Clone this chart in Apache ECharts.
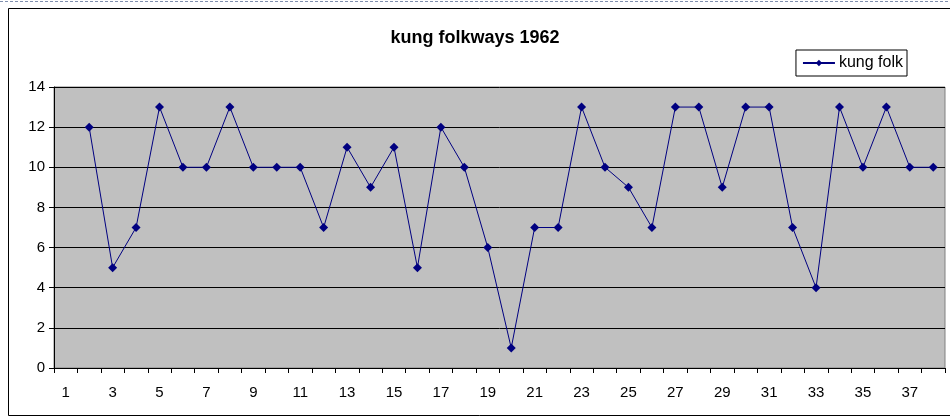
<!DOCTYPE html>
<html>
<head>
<meta charset="utf-8">
<script src="https://cdn.jsdelivr.net/npm/echarts@6/dist/echarts.min.js"></script>
<style>
  html, body { margin: 0; padding: 0; background: #fff; }
  #chart { width: 950px; height: 419px; }
</style>
</head>
<body>
<div id="chart"></div>
<script>
// data
const categories = []
for (let i = 1; i <= 38; i++) categories.push(String(i))

const seriesName = 'kung folk'
const kungFolk = [
  null, 12, 5, 7, 13, 10, 10, 13, 10, 10,
  10, 7, 11, 9, 11, 5, 12, 10, 6, 1,
  7, 7, 13, 10, 9, 7, 13, 13, 9, 13,
  13, 7, 4, 13, 10, 13, 10, 10
]

const yTicks = [0, 2, 4, 6, 8, 10, 12, 14]

const chart = echarts.init(document.getElementById('chart'))

const font = 'Liberation Sans, Arial, sans-serif'

const option = {
  animation: false,
  backgroundColor: '#fff',
  title: {
    text: 'kung folkways 1962',
    left: 'center',
    top: 24,
    textStyle: {
      fontFamily: font,
      fontSize: 18,
      fontWeight: 'bold',
      color: '#000'
    }
  },
  legend: {
    right: 43,
    top: 50,
    itemWidth: 32,
    itemHeight: 8,
    itemGap: 6,
    padding: [5, 4, 5, 6],
    borderColor: '#000',
    borderWidth: 1,
    borderRadius: 0,
    textStyle: { fontFamily: font, fontSize: 16, color: '#000', padding: [0, 0, 0, -1] },
    data: [seriesName]
  },
  grid: {
    left: 54,
    right: 5,
    top: 87,
    bottom: 51,
    show: true,
    backgroundColor: '#c0c0c0',
    borderColor: '#808080',
    borderWidth: 1
  },
  xAxis: {
    type: 'category',
    data: categories,
    boundaryGap: true,
    axisLine: { lineStyle: { color: '#000', width: 1 } },
    axisTick: { show: true, interval: 0, length: 5, lineStyle: { color: '#000' } },
    axisLabel: {
      interval: 1,
      margin: 17,
      fontFamily: font,
      fontSize: 15,
      color: '#000'
    },
    splitLine: { show: false }
  },
  yAxis: {
    type: 'value',
    min: yTicks[0],
    max: yTicks[yTicks.length - 1],
    interval: 2,
    axisLine: { show: true, lineStyle: { color: '#000', width: 1 } },
    axisTick: { show: true, length: 5, lineStyle: { color: '#000' } },
    axisLabel: {
      margin: 9,
      fontFamily: font,
      fontSize: 15,
      color: '#000'
    },
    splitLine: { show: true, lineStyle: { color: '#000', width: 1 } }
  },
  series: [
    {
      name: seriesName,
      type: 'line',
      data: kungFolk,
      symbol: 'diamond',
      symbolSize: 9,
      color: '#000080',
      lineStyle: { color: '#000080', width: 1 },
      itemStyle: { color: '#000080' },
      connectNulls: false
    }
  ],
  graphic: [
    {
      type: 'rect',
      shape: { x: 8.5, y: 8.5, width: 960, height: 407 },
      style: { fill: null, stroke: '#000', lineWidth: 1 },
      silent: true
    },
    {
      type: 'line',
      shape: { x1: 0, y1: 1.5, x2: 950, y2: 1.5 },
      style: { stroke: '#8090b0', lineWidth: 1, lineDash: [3, 2] },
      silent: true
    }
  ]
}

chart.setOption(option)
</script>
</body>
</html>
